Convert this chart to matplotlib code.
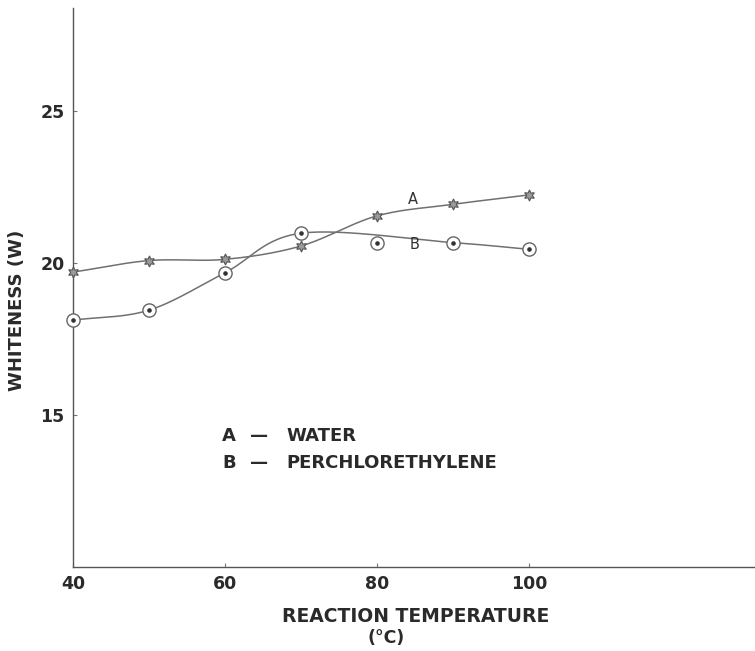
import numpy as np
import matplotlib
matplotlib.use("Agg")
import matplotlib.pyplot as plt

plt.rcParams['font.family'] = ['DejaVu Sans']

temps = [40, 50, 60, 70, 80, 90, 100]
water = [19.7, 20.08, 20.12, 20.56, 21.55, 21.93, 22.24]
perchlor = [18.12, 18.45, 19.68, 20.98, 20.67, 20.67, 20.45]
# the hand-drawn curve for B passes by the 80 °C point
perchlor_curve_idx = [0, 1, 2, 3, 5, 6]
xticks = [40, 60, 80, 100]
yticks = [15, 20, 25]


def catmull(xs, ys, n=30):
    xs = np.asarray(xs, float)
    ys = np.asarray(ys, float)
    px = np.concatenate([[2 * xs[0] - xs[1]], xs, [2 * xs[-1] - xs[-2]]])
    py = np.concatenate([[2 * ys[0] - ys[1]], ys, [2 * ys[-1] - ys[-2]]])
    ox, oy = [], []
    for i in range(1, len(px) - 2):
        t = np.linspace(0, 1, n, endpoint=False)
        for p, o in ((px, ox), (py, oy)):
            p0, p1, p2, p3 = p[i - 1], p[i], p[i + 1], p[i + 2]
            o.extend(0.5 * ((2 * p1) + (-p0 + p2) * t + (2 * p0 - 5 * p1 + 4 * p2 - p3) * t ** 2
                            + (-p0 + 3 * p1 - 3 * p2 + p3) * t ** 3))
    ox.append(xs[-1]); oy.append(ys[-1])
    return np.array(ox), np.array(oy)


fig = plt.figure(figsize=(7.55, 6.51), dpi=100)
ax = fig.add_axes([73 / 755, 1 - 567 / 651, 1 - 73 / 755, (567 - 8) / 651])
ax.set_xlim(40, 40 + (755 - 73) / 7.6)
ax.set_ylim(10, 20 + (263 - 8) / 30.4)

lc = '#707070'
tc = '#2a2a2a'
cx, cy = catmull(temps, water)
ax.plot(cx, cy, color=lc, lw=1.1, zorder=2)
bx, by = catmull([temps[i] for i in perchlor_curve_idx], [perchlor[i] for i in perchlor_curve_idx])
ax.plot(bx, by, color=lc, lw=1.1, zorder=2)

ax.plot(temps, water, linestyle='none', marker=(6, 1, 0), ms=8, mfc='#9a9a9a', mec='#555555',
        mew=0.8, zorder=3, clip_on=False)
ax.plot(temps, perchlor, linestyle='none', marker='o', ms=9.5, mfc='white', mec='#666666',
        mew=1.0, zorder=3, clip_on=False)
ax.plot(temps, perchlor, linestyle='none', marker='o', ms=2.3, color='#333333', zorder=4,
        clip_on=False)

for s in ('top', 'right'):
    ax.spines[s].set_visible(False)
for s in ('left', 'bottom'):
    ax.spines[s].set_color('#555555')
    ax.spines[s].set_linewidth(1.0)

ax.set_xticks(xticks)
ax.set_yticks(yticks)
ax.tick_params(direction='in', length=3, color='#777777', labelsize=12.5)
ax.tick_params(axis='x', pad=6)
ax.tick_params(axis='y', pad=6)
for lab in ax.get_xticklabels() + ax.get_yticklabels():
    lab.set_fontweight('bold')
    lab.set_color(tc)

ax.text(84.7, 22.1, 'A', fontsize=10.5, color='#333333', ha='center', va='center')
ax.text(84.9, 20.6, 'B', fontsize=10.5, color='#333333', ha='center', va='center')

fs = 13
ax.text(59.6, 14.3, 'A', fontsize=fs, fontweight='bold', color=tc, va='center')
ax.text(63.3, 14.3, '\u2014', fontsize=fs, fontweight='bold', color=tc, va='center')
ax.text(68.1, 14.3, 'WATER', fontsize=fs, fontweight='bold', color=tc, va='center')
ax.text(59.6, 13.42, 'B', fontsize=fs, fontweight='bold', color=tc, va='center')
ax.text(63.3, 13.42, '\u2014', fontsize=fs, fontweight='bold', color=tc, va='center')
ax.text(68.1, 13.42, 'PERCHLORETHYLENE', fontsize=fs, fontweight='bold', color=tc,
        va='center')

fig.text(416 / 755, 1 - 617 / 651, 'REACTION TEMPERATURE', fontsize=13.5, fontweight='bold',
         color=tc, ha='center', va='center')
fig.text(386 / 755, 1 - 638 / 651, '(\u00b0C)', fontsize=12.5, fontweight='bold',
         color=tc, ha='center', va='center')
fig.text(17 / 755, 1 - 310 / 651, 'WHITENESS (W)', fontsize=13, fontweight='bold',
         color=tc, ha='center', va='center', rotation=90)

fig.savefig('out.png', dpi=100, facecolor='white')
